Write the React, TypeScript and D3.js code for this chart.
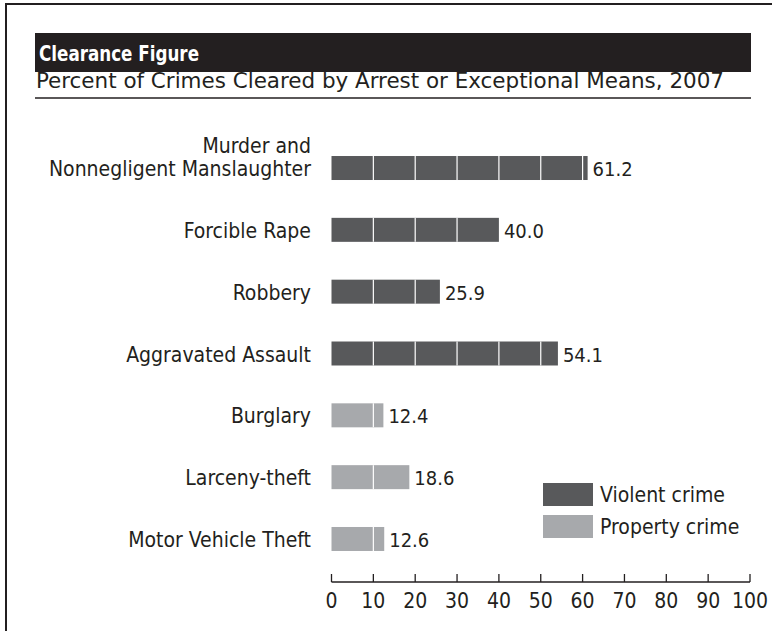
import React from "react";
import { scaleLinear, scaleBand } from "d3";

const categories = [
  "Murder and\nNonnegligent Manslaughter",
  "Forcible Rape",
  "Robbery",
  "Aggravated Assault",
  "Burglary",
  "Larceny-theft",
  "Motor Vehicle Theft",
];
const values = [61.2, 40.0, 25.9, 54.1, 12.4, 18.6, 12.6];
const crimeTypes = ["Violent crime", "Violent crime", "Violent crime", "Violent crime", "Property crime", "Property crime", "Property crime"];
const legendItems = ["Violent crime", "Property crime"];
const ticks = [0, 10, 20, 30, 40, 50, 60, 70, 80, 90, 100];

const W = 772,
  H = 631;
const FONT = "'Liberation Sans Narrow', 'DejaVu Sans Condensed', 'Liberation Sans', sans-serif";
const INK = "#231f20";

const colors: Record<string, string> = {
  "Violent crime": "#58595b",
  "Property crime": "#a7a9ac",
};

export default function App() {
  const x = scaleLinear().domain([0, 100]).range([331.5, 750]);
  const y = scaleBand<string>()
    .domain(categories)
    .range([137.1, 569.9])
    .paddingInner(0.612)
    .paddingOuter(0.306);
  const bh = y.bandwidth();
  const axisY = 582;

  return (
    <svg
      width={W}
      height={H}
      style={{ position: "absolute", left: 0, top: 0, background: "#fff" }}
      fontFamily={FONT}
    >
      {/* outer frame */}
      <rect x={6} y={4} width={820} height={700} fill="none" stroke={INK} strokeWidth={2} />

      {/* header */}
      <rect x={35} y={33} width={716} height={39} fill={INK} />
      <text x={39} y={61} fill="#fff" fontSize={22} fontWeight="bold" textLength={160} lengthAdjust="spacingAndGlyphs">
        Clearance Figure
      </text>
      <text x={36} y={88} fill={INK} fontSize={22} textLength={688} lengthAdjust="spacingAndGlyphs">
        Percent of Crimes Cleared by Arrest or Exceptional Means, 2007
      </text>
      <line x1={35} x2={751} y1={98} y2={98} stroke={INK} strokeWidth={1.5} />

      {/* bars */}
      {categories.map((c, i) => {
        const y0 = y(c)!;
        const cy = y0 + bh / 2;
        const lines = c.split("\n");
        return (
          <g key={c}>
            <rect
              x={x(0)}
              y={y0}
              width={x(values[i]) - x(0)}
              height={bh}
              fill={colors[crimeTypes[i]]}
            />
            {ticks
              .filter((t) => t > 0 && t < values[i])
              .map((t) => (
                <line key={t} x1={x(t)} x2={x(t)} y1={y0} y2={y0 + bh} stroke="#fff" strokeWidth={1.2} />
              ))}
            <text x={x(values[i]) + 5} y={cy + 8} fontSize={20} fill={INK}>
              {values[i].toFixed(1)}
            </text>
            <text textAnchor="end" fontSize={21} fill={INK}>
              {lines.map((l, j) => (
                <tspan key={j} x={311} y={cy + 8 - (lines.length - 1 - j) * 23}>
                  {l}
                </tspan>
              ))}
            </text>
          </g>
        );
      })}

      {/* axis */}
      <line x1={x(0)} x2={x(100)} y1={axisY} y2={axisY} stroke={INK} strokeWidth={1.3} />
      {ticks.map((t) => (
        <g key={t}>
          <line x1={x(t)} x2={x(t)} y1={axisY - 8} y2={axisY} stroke={INK} strokeWidth={1.3} />
          <text x={x(t)} y={608} textAnchor="middle" fontSize={21} fill={INK}>
            {t}
          </text>
        </g>
      ))}

      {/* legend */}
      {legendItems.map((l, i) => (
        <g key={l} transform={`translate(543, ${483 + i * 32})`}>
          <rect width={50} height={23} fill={colors[l]} />
          <text x={57} y={19} fontSize={21} fill={INK}>
            {l}
          </text>
        </g>
      ))}
    </svg>
  );
}
